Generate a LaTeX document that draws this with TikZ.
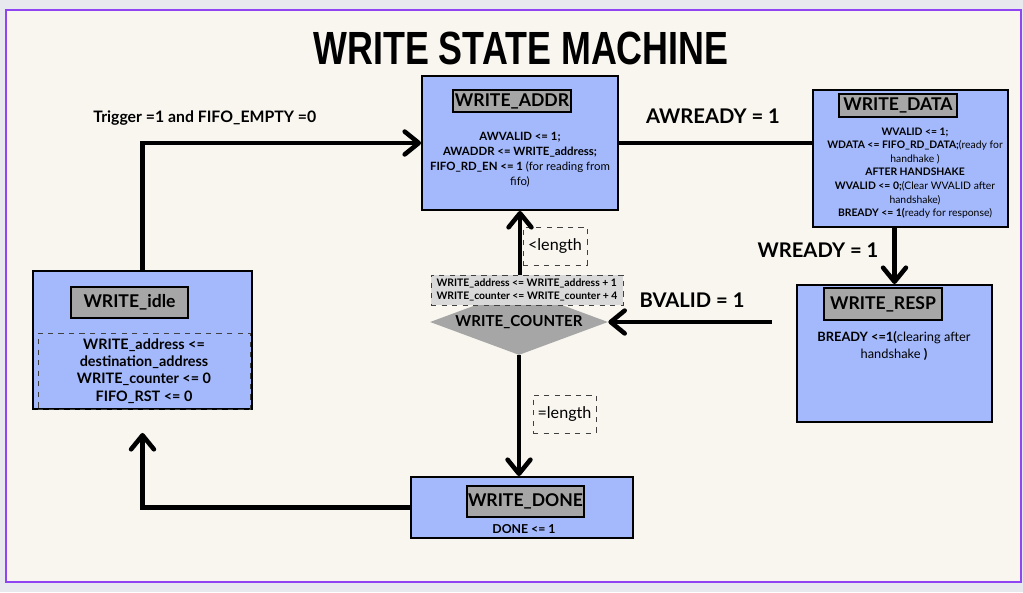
\documentclass[tikz,border=0pt]{standalone}
\usepackage{fontspec}
\setmainfont{Lato}
\newfontfamily\titlefont{Liberation Sans}
\usetikzlibrary{arrows.meta,shapes.geometric}
\newlength\pxu
\setlength\pxu{0.02cm}
\definecolor{stateblue}{HTML}{A4B9FB}
\definecolor{labelgray}{HTML}{A6A6A6}
\definecolor{countgray}{HTML}{D9D9D9}
\definecolor{paper}{HTML}{F9F6EF}
\definecolor{framepurple}{HTML}{8F45F2}
\definecolor{outside}{HTML}{E8E8EF}
\tikzset{
  state/.style={draw=black, line width=1.1pt, fill=stateblue, inner sep=0},
  statename/.style={draw=black, line width=0.9pt, fill=labelgray, inner sep=0,
    font=\bfseries\fontsize{10}{12}\selectfont},
  body/.style={align=center, inner sep=0, font=\fontsize{6.5}{8.5}\selectfont},
  dashbox/.style={draw=black!75, dashed, line width=0.5pt, inner sep=0},
  cond/.style={inner sep=0, font=\bfseries\fontsize{11.5}{13}\selectfont},
  flow/.style={line width=2.6pt, -{Straight Barb[length=8pt,width=13pt,round]}},
}
\begin{document}
\begin{tikzpicture}[x=0.02cm, y=-0.02cm]
  \useasboundingbox (0,0) rectangle (1023,592);
  \fill[outside] (0,0) rectangle (1023,592);
  \draw[framepurple, line width=1.4pt, fill=paper] (6,10) rectangle (1021,582);
  \node (title) at (521,48)
    {\titlefont\bfseries\fontsize{26.5}{30}\selectfont\scalebox{0.77}[1]{WRITE STATE MACHINE}};

  \node[state, minimum width=196\pxu, minimum height=134\pxu] (addr) at (520,143) {};
  \node[statename, minimum width=118\pxu, minimum height=22\pxu] (addrT) at (512,101) {WRITE\_ADDR};
  \node[body] (addrB) at (520,160)
    {\textbf{AWVALID <= 1;}\\ \textbf{AWADDR <= WRITE\_address;}\\
     \textbf{FIFO\_RD\_EN <= 1} (for reading from\\ fifo)};

  \node[state, minimum width=195\pxu, minimum height=137\pxu] (data) at (910.5,158.5) {};
  \node[statename, minimum width=118\pxu, minimum height=23\pxu] (dataT) at (898,105.5) {WRITE\_DATA};
  \node[body, font=\fontsize{5.9}{7.75}\selectfont] (dataB) at (915,173)
    {\textbf{WVALID <= 1;}\\ \textbf{WDATA <= FIFO\_RD\_DATA;}(ready for\\ handhake )\\
     \textbf{AFTER HANDSHAKE}\\ \textbf{WVALID <= 0;}(Clear WVALID after\\ handshake)\\
     \textbf{BREADY <= 1(}ready for response)};

  \node[state, minimum width=195\pxu, minimum height=137\pxu] (resp) at (894.5,353.5) {};
  \node[statename, minimum width=118\pxu, minimum height=32\pxu] (respT) at (883,304) {WRITE\_RESP};
  \node[body, font=\fontsize{7.3}{9.6}\selectfont] (respB) at (894,346)
    {\textbf{BREADY <=1(}clearing after\\ handshake \textbf{)}};

  \node[state, minimum width=219\pxu, minimum height=138\pxu] (idle) at (142.5,340) {};
  \node[statename, minimum width=117\pxu, minimum height=31\pxu] (idleT) at (129.5,302.5) {WRITE\_idle};
  \node[dashbox, body, minimum width=212\pxu, minimum height=76\pxu,
    font=\bfseries\fontsize{8.2}{9.9}\selectfont] (idleB) at (144,371)
    {WRITE\_address <=\\ destination\_address\\ WRITE\_counter <= 0\\ FIFO\_RST <= 0};

  \node[state, minimum width=222\pxu, minimum height=61\pxu] (done) at (522,507.5) {};
  \node[statename, minimum width=117\pxu, minimum height=31\pxu] (doneT) at (525.5,501.5) {WRITE\_DONE};
  \node[body, font=\bfseries\fontsize{7}{8}\selectfont] (doneB) at (524,529) {DONE <= 1};

  \node[diamond, fill=labelgray, aspect=2.7, inner sep=0, minimum width=178\pxu, minimum height=66\pxu,
    font=\bfseries\fontsize{8.6}{10}\selectfont] (cnt) at (519,322) {WRITE\_COUNTER};
  \node[dashbox, fill=countgray, align=left, minimum width=192\pxu, minimum height=30\pxu,
    font=\bfseries\fontsize{5.9}{7.4}\selectfont] (cntBox) at (527,290)
    {WRITE\_address <= WRITE\_address + 1\\ WRITE\_counter <= WRITE\_counter + 4};
  \node[dashbox, fill=paper, minimum width=64\pxu, minimum height=38\pxu,
    font=\fontsize{9.2}{11}\selectfont] (lessLen) at (555,246) {<length};
  \node[dashbox, fill=paper, minimum width=63\pxu, minimum height=38\pxu,
    font=\fontsize{9.2}{11}\selectfont] (eqLen) at (564.5,414) {=length};

  \node[cond, anchor=west, font=\bfseries\fontsize{9}{10}\selectfont] (trig) at (93,118)
    {Trigger =1 and FIFO\_EMPTY =0};
  \node[cond] (awready) at (713,116) {AWREADY = 1};
  \node[cond] (wready) at (818,250) {WREADY = 1};
  \node[cond] (bvalid) at (692,300) {BVALID = 1};

  \begin{scope}[flow]
    \draw (idle.north) |- (addr.west);
    \draw[-] (addr.east) -- (addr.east -| data.west);
    \draw (data.south -| resp.north) -- (resp.north);
    \draw[shorten <=24\pxu] (resp.west |- cnt.east) -- (cnt.east);
    \draw (cntBox.north -| addr.south) -- (addr.south);
    \draw (cnt.south) -- (cnt.south |- done.north);
    \draw[shorten >=23\pxu] (done.west) -| (idle.south);
  \end{scope}
\end{tikzpicture}
\end{document}
